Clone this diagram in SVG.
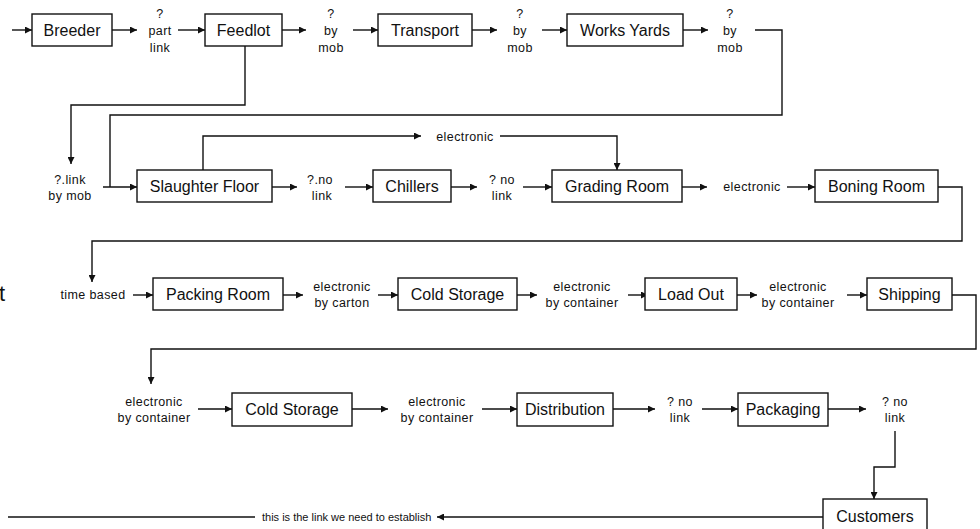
<svg xmlns="http://www.w3.org/2000/svg" width="980" height="529" viewBox="0 0 980 529">
  <defs>
    <marker id="arrow" viewBox="0 0 10 10" refX="10" refY="5" markerWidth="8" markerHeight="7" markerUnits="userSpaceOnUse" orient="auto">
      <path d="M0,0 L10,5 L0,10 z" fill="#111"/>
    </marker>
    <style>
      .box { fill: #fff; stroke: #111; stroke-width: 1.4; }
      .lbl { font-family: "Liberation Sans", Arial, sans-serif; font-size: 16px; fill: #111; text-anchor: middle; }
      .sm { font-family: "Liberation Sans", Arial, sans-serif; font-size: 12.5px; fill: #111; text-anchor: middle; letter-spacing: 0.4px; }
      .wire { fill: none; stroke: #111; stroke-width: 1.4; }
      .arr { fill: none; stroke: #111; stroke-width: 1.4; marker-end: url(#arrow); }
    </style>
  </defs>
  <rect width="980" height="529" fill="#fff"/>

  <!-- stray heading fragment at left edge -->
  <text x="-1" y="301" font-family="Liberation Sans, Arial, sans-serif" font-size="22" fill="#111">t</text>

  <!-- connectors -->
  <g id="connectors">
    <!-- row 1 -->
    <line class="arr" x1="12" y1="30" x2="32" y2="30"/>
    <line class="arr" x1="112" y1="30" x2="137" y2="30"/>
    <line class="arr" x1="178" y1="30" x2="205" y2="30"/>
    <line class="arr" x1="282" y1="30" x2="306" y2="30"/>
    <line class="arr" x1="353" y1="30" x2="378" y2="30"/>
    <line class="arr" x1="472" y1="30" x2="497" y2="30"/>
    <line class="arr" x1="542" y1="30" x2="567" y2="30"/>
    <line class="arr" x1="683" y1="30" x2="708" y2="30"/>
    <!-- feedlot down to link label -->
    <polyline class="arr" points="245,46 245,105 71,105 71,164"/>
    <!-- works yards around to slaughter floor -->
    <polyline class="wire" points="755,30 782,30 782,115 110,115 110,187"/>
    <line class="arr" x1="103" y1="187" x2="137" y2="187"/>
    <!-- electronic bypass to grading room -->
    <polyline class="arr" points="203,170 203,136 421,136"/>
    <polyline class="arr" points="500,136 617,136 617,170"/>
    <!-- row 2 -->
    <line class="arr" x1="272" y1="187" x2="297" y2="187"/>
    <line class="arr" x1="345" y1="187" x2="373" y2="187"/>
    <line class="arr" x1="451" y1="187" x2="477" y2="187"/>
    <line class="arr" x1="523" y1="187" x2="552" y2="187"/>
    <line class="arr" x1="682" y1="187" x2="707" y2="187"/>
    <line class="arr" x1="787" y1="187" x2="815" y2="187"/>
    <polyline class="arr" points="938,187 962,187 962,241 92,241 92,282"/>
    <!-- row 3 -->
    <line class="arr" x1="133" y1="295" x2="153" y2="295"/>
    <line class="arr" x1="283" y1="295" x2="303" y2="295"/>
    <line class="arr" x1="378" y1="295" x2="398" y2="295"/>
    <line class="arr" x1="517" y1="295" x2="537" y2="295"/>
    <line class="arr" x1="628" y1="295" x2="648" y2="295"/>
    <line class="arr" x1="737" y1="295" x2="757" y2="295"/>
    <line class="arr" x1="847" y1="295" x2="867" y2="295"/>
    <polyline class="arr" points="952,295 976,295 976,349 151,349 151,384"/>
    <!-- row 4 -->
    <line class="arr" x1="198" y1="409" x2="232" y2="409"/>
    <line class="arr" x1="352" y1="409" x2="388" y2="409"/>
    <line class="arr" x1="482" y1="409" x2="517" y2="409"/>
    <line class="arr" x1="613" y1="409" x2="655" y2="409"/>
    <line class="arr" x1="702" y1="409" x2="738" y2="409"/>
    <line class="arr" x1="828" y1="409" x2="866" y2="409"/>
    <polyline class="arr" points="895,431 895,467 874,467 874,499"/>
    <!-- customers back to the start -->
    <line class="arr" x1="823" y1="517" x2="437" y2="517"/>
    <line class="wire" x1="8" y1="517" x2="255" y2="517"/>
  </g>

  <!-- link labels -->
  <g id="link-labels">
    <text class="sm" x="160" y="18">?</text>
    <text class="sm" x="160" y="35">part</text>
    <text class="sm" x="160" y="52">link</text>
    <text class="sm" x="331" y="18">?</text>
    <text class="sm" x="331" y="35">by</text>
    <text class="sm" x="331" y="52">mob</text>
    <text class="sm" x="520" y="18">?</text>
    <text class="sm" x="520" y="35">by</text>
    <text class="sm" x="520" y="52">mob</text>
    <text class="sm" x="730" y="18">?</text>
    <text class="sm" x="730" y="35">by</text>
    <text class="sm" x="730" y="52">mob</text>

    <text class="sm" x="70" y="184">?.link</text>
    <text class="sm" x="70" y="200">by mob</text>
    <text class="sm" x="465" y="141">electronic</text>
    <text class="sm" x="320" y="184">?.no</text>
    <text class="sm" x="322" y="200">link</text>
    <text class="sm" x="502" y="184">? no</text>
    <text class="sm" x="502" y="200">link</text>
    <text class="sm" x="752" y="191">electronic</text>

    <text class="sm" x="93" y="299">time based</text>
    <text class="sm" x="342" y="291">electronic</text>
    <text class="sm" x="342" y="307">by carton</text>
    <text class="sm" x="582" y="291">electronic</text>
    <text class="sm" x="582" y="307">by container</text>
    <text class="sm" x="798" y="291">electronic</text>
    <text class="sm" x="798" y="307">by container</text>

    <text class="sm" x="154" y="406">electronic</text>
    <text class="sm" x="154" y="422">by container</text>
    <text class="sm" x="437" y="406">electronic</text>
    <text class="sm" x="437" y="422">by container</text>
    <text class="sm" x="680" y="406">? no</text>
    <text class="sm" x="680" y="422">link</text>
    <text class="sm" x="895" y="406">? no</text>
    <text class="sm" x="895" y="422">link</text>

    <text x="262" y="521" font-family="Liberation Sans, Arial, sans-serif" font-size="11" fill="#111">this is the link we need to establish</text>
  </g>

  <!-- nodes -->
  <g id="breeder"><rect class="box" x="32" y="14" width="80" height="32"/><text class="lbl" x="72" y="36">Breeder</text></g>
  <g id="feedlot"><rect class="box" x="205" y="14" width="77" height="32"/><text class="lbl" x="243.5" y="36">Feedlot</text></g>
  <g id="transport"><rect class="box" x="378" y="14" width="94" height="32"/><text class="lbl" x="425" y="36">Transport</text></g>
  <g id="works-yards"><rect class="box" x="567" y="14" width="116" height="32"/><text class="lbl" x="625" y="36">Works Yards</text></g>

  <g id="slaughter-floor"><rect class="box" x="137" y="170" width="135" height="32"/><text class="lbl" x="204.5" y="192">Slaughter Floor</text></g>
  <g id="chillers"><rect class="box" x="373" y="170" width="78" height="32"/><text class="lbl" x="412" y="192">Chillers</text></g>
  <g id="grading-room"><rect class="box" x="552" y="170" width="130" height="32"/><text class="lbl" x="617" y="192">Grading Room</text></g>
  <g id="boning-room"><rect class="box" x="815" y="170" width="123" height="32"/><text class="lbl" x="876.5" y="192">Boning Room</text></g>

  <g id="packing-room"><rect class="box" x="153" y="278" width="130" height="32"/><text class="lbl" x="218" y="300">Packing Room</text></g>
  <g id="cold-storage-1"><rect class="box" x="398" y="278" width="119" height="32"/><text class="lbl" x="457.5" y="300">Cold Storage</text></g>
  <g id="load-out"><rect class="box" x="645" y="278" width="92" height="32"/><text class="lbl" x="691" y="300">Load Out</text></g>
  <g id="shipping"><rect class="box" x="867" y="278" width="85" height="32"/><text class="lbl" x="909.5" y="300">Shipping</text></g>

  <g id="cold-storage-2"><rect class="box" x="232" y="393" width="120" height="33"/><text class="lbl" x="292" y="415">Cold Storage</text></g>
  <g id="distribution"><rect class="box" x="517" y="393" width="96" height="33"/><text class="lbl" x="565" y="415">Distribution</text></g>
  <g id="packaging"><rect class="box" x="738" y="393" width="90" height="33"/><text class="lbl" x="783" y="415">Packaging</text></g>

  <g id="customers"><rect class="box" x="823" y="499" width="104" height="33"/><text class="lbl" x="875" y="522">Customers</text></g>
</svg>
